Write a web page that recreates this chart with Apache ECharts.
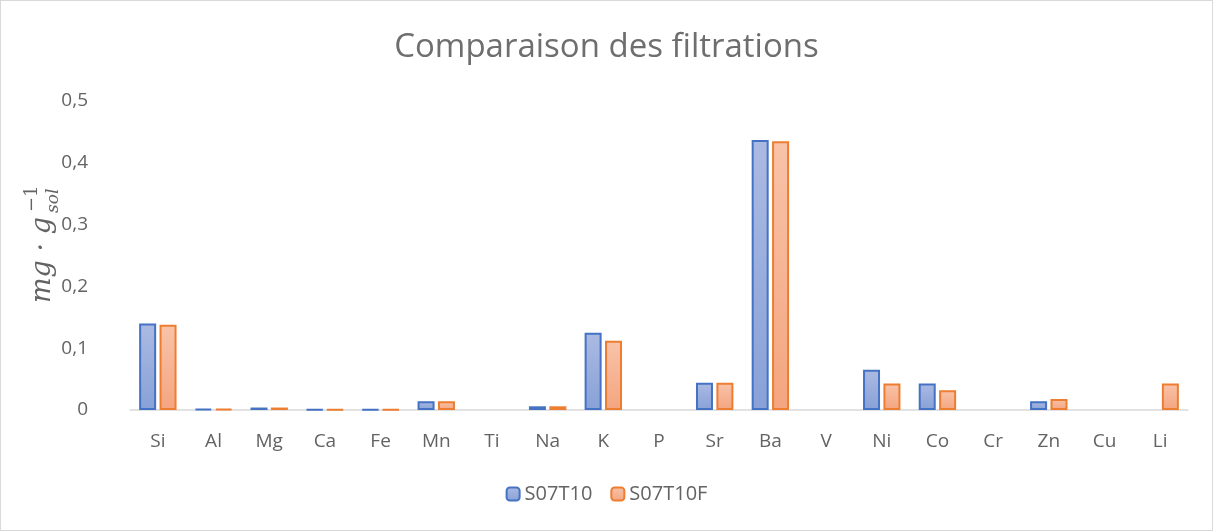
<!DOCTYPE html>
<html>
<head>
<meta charset="utf-8">
<script src="https://cdn.jsdelivr.net/npm/echarts@6/dist/echarts.min.js"></script>
<style>
  html, body { margin: 0; padding: 0; background: #fff; }
  #chart { width: 1213px; height: 531px; box-sizing: border-box; border: 1px solid #d9d9d9; }
</style>
</head>
<body>
<div id="chart"></div>
<script>
// éléments analysés
const elements = ['Si', 'Al', 'Mg', 'Ca', 'Fe', 'Mn', 'Ti', 'Na', 'K', 'P', 'Sr', 'Ba', 'V', 'Ni', 'Co', 'Cr', 'Zn', 'Cu', 'Li'];
// mg par g de sol
const s07t10  = [0.140, 0.002, 0.004, 0.001, 0.001, 0.014, 0, 0.006, 0.125, 0, 0.044, 0.437, 0, 0.065, 0.043, 0, 0.014, 0, 0];
const s07t10f = [0.138, 0.002, 0.004, 0.001, 0.001, 0.014, 0, 0.006, 0.112, 0, 0.044, 0.435, 0, 0.043, 0.032, 0, 0.018, 0, 0.043];
const yTicks = [0, 0.1, 0.2, 0.3, 0.4, 0.5];

const chart = echarts.init(document.getElementById('chart'));
const font = 'Open Sans, Noto Sans, sans-serif';
const grey = '#636363';

// les zéros ne sont pas dessinés
function clean(arr) {
  return arr.map(v => (v === 0 ? '-' : v));
}

function grad(top, bottom) {
  return new echarts.graphic.LinearGradient(0, 0, 0, 1, [
    { offset: 0, color: top },
    { offset: 1, color: bottom }
  ]);
}

const option = {
  animation: false,
  title: {
    text: 'Comparaison des filtrations',
    left: 'center',
    top: 25,
    textStyle: { fontFamily: font, fontSize: 33, fontWeight: 'normal', color: '#6e6e6e' }
  },
  legend: {
    bottom: 21,
    left: 'center',
    itemWidth: 13,
    itemHeight: 13,
    itemGap: 18,
    textStyle: { fontFamily: font, fontSize: 20, color: grey },
    data: ['S07T10', 'S07T10F']
  },
  grid: { left: 129, right: 24, top: 100, bottom: 120 },
  xAxis: {
    type: 'category',
    data: elements,
    axisLine: { lineStyle: { color: '#d9d9d9', width: 1.5 } },
    axisTick: { show: false },
    axisLabel: { fontFamily: font, fontSize: 19, color: grey, margin: 22 }
  },
  yAxis: {
    type: 'value',
    min: yTicks[0],
    max: yTicks[yTicks.length - 1],
    interval: 0.1,
    splitLine: { show: false },
    axisLine: { show: false },
    axisTick: { show: false },
    axisLabel: {
      fontFamily: font, fontSize: 19, color: grey, margin: 42,
      formatter: v => String(Math.round(v * 10) / 10).replace('.', ',')
    }
  },
  series: [
    {
      name: 'S07T10',
      type: 'bar',
      data: clean(s07t10),
      barWidth: 17,
      barGap: '20%',
      itemStyle: { color: grad('#abbae2', '#88a1d7'), borderColor: '#4472c4', borderWidth: 2 }
    },
    {
      name: 'S07T10F',
      type: 'bar',
      data: clean(s07t10f),
      barWidth: 17,
      itemStyle: { color: grad('#f8c3a9', '#f4a57f'), borderColor: '#ed7d31', borderWidth: 2 }
    }
  ],
  graphic: [
    {
      type: 'group',
      x: 42,
      y: 302,
      rotation: Math.PI / 2,
      children: [
        { type: 'text', x: 0, y: 0, style: { text: 'mg · g', font: 'italic 27px DejaVu Serif, Liberation Serif, serif', fill: grey, textVerticalAlign: 'middle' } },
        { type: 'text', x: 91, y: -11, style: { text: '−1', font: '18px DejaVu Serif, Liberation Serif, serif', fill: grey, textVerticalAlign: 'middle' } },
        { type: 'text', x: 90, y: 11, style: { text: 'sol', font: 'italic 17px DejaVu Serif, Liberation Serif, serif', fill: grey, textVerticalAlign: 'middle' } }
      ]
    }
  ]
};

chart.setOption(option);
</script>
</body>
</html>
